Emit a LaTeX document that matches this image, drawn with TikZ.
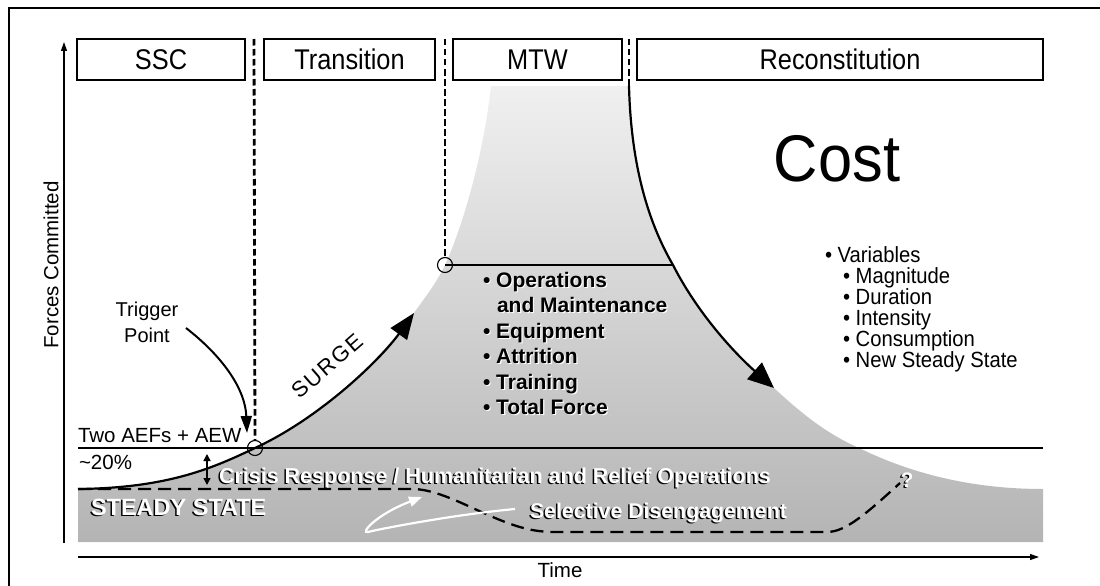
\documentclass[tikz,border=0pt]{standalone}
\usepackage{fontspec}
\setmainfont{Liberation Sans}
\usetikzlibrary{arrows.meta}
\definecolor{shadetop}{HTML}{F0F0F0}
\definecolor{shadebot}{HTML}{B4B4B4}
\newcommand{\myfs}[1]{\fontsize{#1}{#1}\selectfont}
\newcommand{\hsx}[2]{\scalebox{#1}[1]{#2}}
\begin{document}
\begin{tikzpicture}[x=1pt,y=-1pt,
  hdrbox/.style={draw, line width=2.2pt, inner sep=0pt},
  lbl/.style={inner sep=0pt, outer sep=0pt},
  vdash/.style={line width=2.8pt, dash pattern=on 6.5pt off 3.5pt},
  sdash/.style={line width=2.3pt, dash pattern=on 13pt off 7pt},
  curve/.style={line width=2.2pt},
  hline/.style={line width=2pt},
  axisline/.style={line width=1.1pt, -{Triangle[length=9pt,width=6pt]}},
  ring/.style={circle, draw, line width=1.1pt, minimum size=15pt, inner sep=0pt},
  boldtxt/.style={lbl, font=\bfseries\myfs{21}},
]
\useasboundingbox (0,0) rectangle (1100,586);
% frame
\draw[line width=2.6pt] (9,600) -- (9,8) -- (1110,8);

% shaded region
\shade[top color=shadetop, bottom color=shadebot]
 (78,542) -- (78,489)
 .. controls (170,488) and (215,467) .. (255,448)
 .. controls (320,418) and (380,360) .. (414,313)
 .. controls (426,296) and (437,282) .. (445,265)
 .. controls (460,233) and (483,160) .. (491,86)
 -- (629,86)
 .. controls (631,165) and (648,222) .. (673,265)
 .. controls (700,318) and (740,358) .. (774,388)
 .. controls (800,412) and (825,433) .. (859,448)
 .. controls (900,468) and (960,489) .. (1043,489)
 -- (1043,542) -- cycle;

% axes
\coordinate (yb) at (64,543);
\coordinate (yt) at (64,42);
\coordinate (xl) at (78,557);
\coordinate (xr) at (1039,557);
\draw[axisline] (yb) -- (yt);
\draw[axisline] (xl) -- (xr);
\node[lbl, rotate=90, font=\myfs{20.5}] (ylab) at (51,265) {Forces Committed};
\node[lbl, anchor=base, font=\myfs{20.5}] (xlab) at (560,577) {Time};

% header boxes
\node[hdrbox, minimum width=168pt, minimum height=41pt] (ssc) at (161,59.5) {\hsx{0.89}{\myfs{28.5}SSC}};
\node[hdrbox, minimum width=171pt, minimum height=41pt] (trans) at (349.5,59.5) {\hsx{0.89}{\myfs{28.5}Transition}};
\node[hdrbox, minimum width=169pt, minimum height=41pt] (mtw) at (537.5,59.5) {\hsx{0.89}{\myfs{28.5}MTW}};
\node[hdrbox, minimum width=406pt, minimum height=41pt] (recon) at (840,59.5) {\hsx{0.89}{\myfs{28.5}Reconstitution}};

% circles
\node[ring] (c1) at (255,448) {};
\node[ring] (c2) at (445,265) {};

% vertical dashed lines
\coordinate (d1) at (254,39);
\coordinate (d2) at (445,39);
\coordinate (d3) at (629,39);
\coordinate (d3b) at (629,86);
\draw[vdash] (d1) -- (c1.north);
\draw[vdash] (d2) -- (c2.north);
\draw[vdash] (d3) -- (d3b);

% horizontal lines
\coordinate (hl) at (78,448);
\coordinate (hr) at (1043,448);
\coordinate (ur) at (673,265);
\draw[hline] (hl) -- (hr);
\draw[hline] (c2.center) -- (ur);

% steady dashed line
\coordinate (s0) at (78,489);
\coordinate (s1) at (414,489);
\coordinate (s2) at (555,532);
\coordinate (s3) at (827,532);
\coordinate (s4) at (900,483);
\draw[sdash] (s0) -- (s1) .. controls (440,490) and (470,508) .. (500,520)
  .. controls (520,528) and (535,532) .. (s2) -- (s3)
  .. controls (845,532) and (865,515) .. (s4);

% surge curve
\coordinate (sg0) at (78,489);
\coordinate (sg1) at (414,313);
\draw[curve, -{Triangle[length=26pt,width=20pt]}] (sg0)
 .. controls (170,488) and (215,467) .. (c1.center)
 .. controls (320,418) and (380,360) .. (sg1);

% decay curve
\coordinate (dc1) at (774,388);
\draw[curve, -{Triangle[length=26pt,width=22pt]}] (d3b)
 .. controls (631,165) and (648,222) .. (ur)
 .. controls (700,318) and (740,358) .. (dc1);

% trigger arrow
\coordinate (tg0) at (186,328);
\coordinate (tg1) at (247,433);
\draw[line width=2pt, -{Triangle[length=17pt,width=11pt]}] (tg0) .. controls (217,352) and (245,385) .. (tg1);

% white arrow
\coordinate (wa0) at (515,509);
\coordinate (wa1) at (368,532);
\coordinate (wa2) at (422,497);
\draw[white, line width=2.2pt, -{Triangle[length=13pt,width=10pt]}] (wa0)
 .. controls (450,515) and (375,530) .. (wa1)
 .. controls (360,534) and (375,515) .. (wa2);

% double arrow
\coordinate (da0) at (207,454);
\coordinate (da1) at (207,485);
\draw[line width=1.5pt, {Triangle[length=7pt,width=7pt]}-{Triangle[length=7pt,width=7pt]}] (da0) -- (da1);

% texts left
\node[lbl, anchor=base, font=\myfs{20}] (trig1) at (147,316) {Trigger};
\node[lbl, anchor=base, font=\myfs{20}] (trig2) at (147,342) {Point};
\node[lbl, anchor=base west, font=\myfs{20.5}] (aef) at (78,442) {Two AEFs + AEW};
\node[lbl, anchor=base west, font=\myfs{20.5}] (pct) at (79,469) {\textasciitilde20\%};
\node[lbl, rotate=41, font=\myfs{22}\addfontfeatures{LetterSpace=9}] (surge) at (327,366) {SURGE};

% Cost and variables
\node[lbl, font=\myfs{66}] (cost) at (837,159) {\hsx{0.93}{Cost}};
\node[lbl, anchor=base west, font=\myfs{22}] (v0) at (825,262) {\hsx{0.92}{• Variables}};
\node[lbl, anchor=base west, font=\myfs{22}] (v1) at (843,283) {\hsx{0.92}{• Magnitude}};
\node[lbl, anchor=base west, font=\myfs{22}] (v2) at (843,304) {\hsx{0.92}{• Duration}};
\node[lbl, anchor=base west, font=\myfs{22}] (v3) at (843,325) {\hsx{0.92}{• Intensity}};
\node[lbl, anchor=base west, font=\myfs{22}] (v4) at (843,346) {\hsx{0.92}{• Consumption}};
\node[lbl, anchor=base west, font=\myfs{22}] (v5) at (843,367) {\hsx{0.92}{• New Steady State}};

% bold list (black with white halo)
\foreach \t/\xx/\yy/\nm in {• Operations/483/287/b0, and Maintenance/497/312.5/b1, • Equipment/483/338/b2, • Attrition/483/363.5/b3, • Training/483/389/b4, • Total Force/483/414.5/b5}{
  \node[boldtxt, anchor=base west, text=white] (\nm h) at (\xx+1.2,\yy+1.2) {\t};
  \node[boldtxt, anchor=base west, text=black] (\nm) at (\xx,\yy) {\t};
}

% white text with dark shadow
\node[boldtxt, anchor=base west, text=black, font=\bfseries\myfs{21.5}] (crisish) at (217.5,484.5) {Crisis Response / Humanitarian and Relief Operations};
\node[boldtxt, anchor=base west, text=white, font=\bfseries\myfs{21.5}] (crisis) at (219,483) {Crisis Response / Humanitarian and Relief Operations};
\node[boldtxt, anchor=base west, text=black, font=\bfseries\myfs{23.5}] (steadyh) at (89.5,516.5) {STEADY STATE};
\node[boldtxt, anchor=base west, text=white, font=\bfseries\myfs{23.5}] (steady) at (91,515) {STEADY STATE};
\node[boldtxt, anchor=base west, text=black, font=\bfseries\myfs{21.3}] (selh) at (528.5,519.5) {Selective Disengagement};
\node[boldtxt, anchor=base west, text=white, font=\bfseries\myfs{21.3}] (sel) at (530,518) {Selective Disengagement};
\node[boldtxt, text=black] (qh) at (905.5,481.5) {?};
\node[boldtxt, text=white] (q) at (907,480) {?};
\end{tikzpicture}
\end{document}
